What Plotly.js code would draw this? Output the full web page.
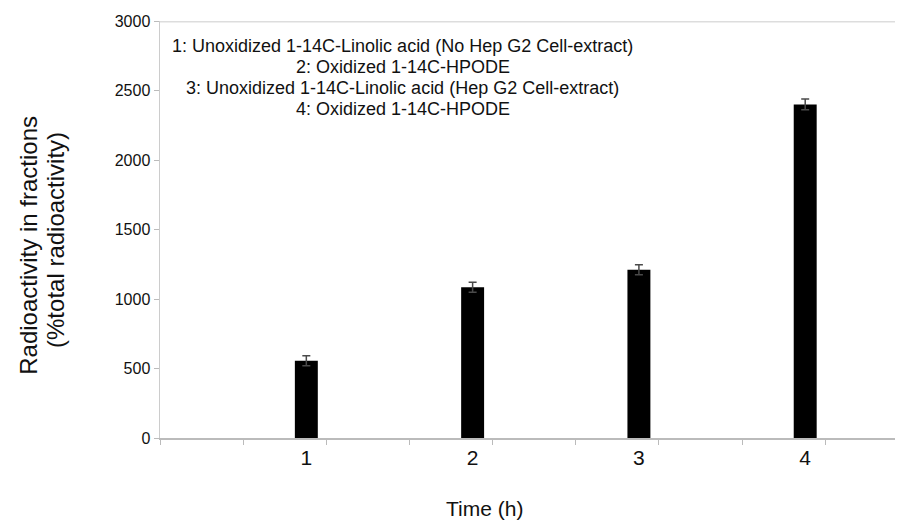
<!DOCTYPE html>
<html>
<head>
<meta charset="utf-8">
<script src="https://cdn.plot.ly/plotly-3.0.1.min.js"></script>
<style>html,body{margin:0;padding:0;background:#fff;}#chart{width:897px;height:526px;}</style>
</head>
<body>
<div id="chart"></div>
<script>
// Data
var categories = [1, 2, 3, 4];
var tickLabels = ['1', '2', '3', '4'];
var radioactivity = [556, 1084, 1211, 2400];
var errors = [36, 36, 36, 39];
var legendLines = [
  '1: Unoxidized 1-14C-Linolic acid (No Hep G2 Cell-extract)',
  '2: Oxidized 1-14C-HPODE',
  '3: Unoxidized 1-14C-Linolic acid (Hep G2 Cell-extract)',
  '4: Oxidized 1-14C-HPODE'
];
var xTitle = 'Time (h)';
var yTitleLines = ['Radioactivity in fractions', '(%total radioactivity)'];

var FONT = 'Liberation Sans, Arial, sans-serif';
var INK = '#111111';

var trace = {
  type: 'bar',
  x: categories,
  y: radioactivity,
  width: 0.138,
  marker: {color: '#000000', line: {width: 0}},
  error_y: {type: 'data', array: errors, visible: true, color: '#4a4a4a', thickness: 1.5, width: 4},
  hoverinfo: 'skip'
};

var annotations = legendLines.map(function (t, i) {
  return {
    text: t, xref: 'paper', yref: 'paper',
    x: 0.330, y: 0.940 - i * 0.0505,
    xanchor: 'center', yanchor: 'middle',
    showarrow: false,
    font: {family: FONT, size: 18, color: INK}
  };
});
annotations.push({
  text: xTitle, xref: 'paper', yref: 'paper',
  x: 0.441, y: -0.168, xanchor: 'center', yanchor: 'middle',
  showarrow: false,
  font: {family: FONT, size: 21, color: INK}
});
var yTitlePos = [{x: -0.179, y: 0.462}, {x: -0.142, y: 0.474}];
yTitleLines.forEach(function (t, i) {
  annotations.push({
    text: t, xref: 'paper', yref: 'paper',
    x: yTitlePos[i].x, y: yTitlePos[i].y, xanchor: 'center', yanchor: 'middle',
    textangle: -90, showarrow: false,
    font: {family: FONT, size: 24, color: INK}
  });
});

var layout = {
  width: 897, height: 526,
  margin: {l: 160, r: 2, t: 21, b: 88},
  paper_bgcolor: '#ffffff', plot_bgcolor: '#ffffff',
  showlegend: false,
  font: {family: FONT, color: INK},
  xaxis: {
    range: [0.12, 4.54],
    tickmode: 'array', tickvals: categories, ticktext: tickLabels,
    ticks: '', showgrid: false, zeroline: false,
    showline: true, linecolor: '#bbbbbb', linewidth: 1.5,
    tickfont: {family: FONT, size: 21, color: INK},
    minor: {tick0: 0.12, dtick: 0.5, ticks: 'outside', ticklen: 5, tickcolor: '#bbbbbb', tickwidth: 1, showgrid: false},
    fixedrange: true
  },
  yaxis: {
    range: [0, 3000],
    tickmode: 'linear', tick0: 0, dtick: 500,
    ticks: 'outside', ticklen: 5, tickcolor: '#bbbbbb', tickwidth: 1,
    showgrid: false, zeroline: false,
    showline: true, linecolor: '#cccccc', linewidth: 1.5,
    tickfont: {family: FONT, size: 16, color: INK},
    fixedrange: true
  },
  shapes: [{
    type: 'line', xref: 'paper', yref: 'y', x0: 0, x1: 1, y0: 3000, y1: 3000,
    line: {color: '#dddddd', width: 3}, layer: 'below'
  }],
  annotations: annotations
};

Plotly.newPlot('chart', [trace], layout, {displayModeBar: false, staticPlot: true});
</script>
</body>
</html>
